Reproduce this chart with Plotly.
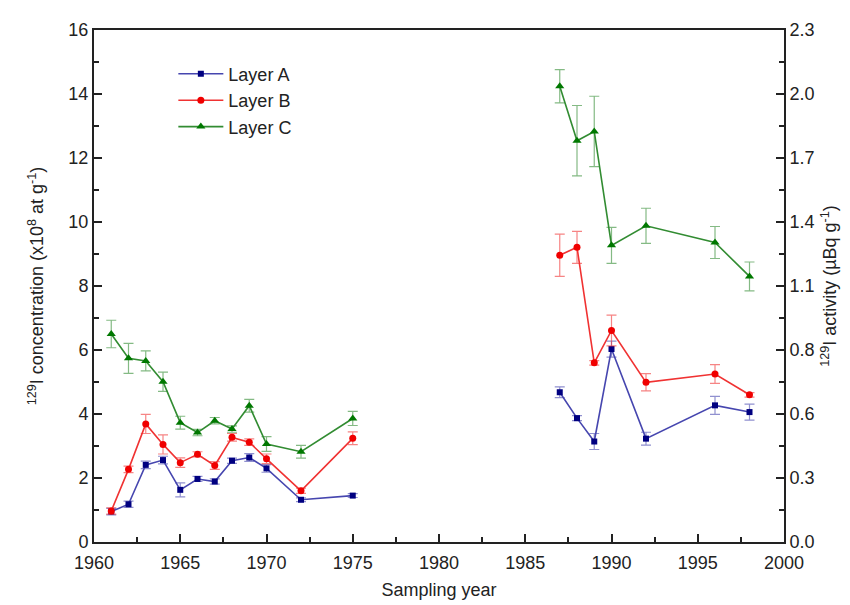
import plotly.graph_objects as go

# sampling years
years_left = [1961, 1962, 1963, 1964, 1965, 1966, 1967, 1968, 1969, 1970, 1972, 1975]
years_right = [1987, 1988, 1989, 1990, 1992, 1996, 1998]
years = years_left + [None] + years_right

# 129I concentration (x10^8 at/g)
layer_a = [0.95, 1.18, 2.41, 2.56, 1.63, 1.97, 1.89, 2.54, 2.64, 2.30, 1.32, 1.45,
           None, 4.68, 3.87, 3.14, 6.03, 3.23, 4.27, 4.06]
layer_a_err = [0.10, 0.10, 0.12, 0.12, 0.22, 0.08, 0.08, 0.08, 0.12, 0.12, 0.06, 0.06,
               None, 0.17, 0.08, 0.25, 0.25, 0.20, 0.28, 0.25]

layer_b = [0.97, 2.27, 3.69, 3.05, 2.48, 2.74, 2.39, 3.27, 3.12, 2.60, 1.60, 3.24,
           None, 8.96, 9.21, 5.60, 6.61, 4.99, 5.25, 4.60]
layer_b_err = [0.10, 0.10, 0.30, 0.30, 0.15, 0.08, 0.12, 0.12, 0.10, 0.15, 0.08, 0.20,
               None, 0.66, 0.50, 0.07, 0.48, 0.27, 0.29, 0.07]

layer_c = [6.50, 5.74, 5.66, 5.01, 3.73, 3.42, 3.79, 3.53, 4.26, 3.06, 2.82, 3.86,
           None, 14.24, 12.54, 12.83, 9.27, 9.88, 9.36, 8.30]
layer_c_err = [0.43, 0.47, 0.31, 0.30, 0.20, 0.10, 0.10, 0.10, 0.20, 0.23, 0.20, 0.22,
               None, 0.52, 1.10, 1.10, 0.56, 0.55, 0.50, 0.45]

# right axis labels (129I activity, uBq/g)
left_ticks = [0, 2, 4, 6, 8, 10, 12, 14, 16]
right_labels = ["0.0", "0.3", "0.6", "0.8", "1.1", "1.4", "1.7", "2.0", "2.3"]

FONT = "Liberation Sans, Arial, sans-serif"

series = [
    ("Layer A", layer_a, layer_a_err, "rgb(70,70,175)", "rgb(0,0,128)", "square", 6),
    ("Layer B", layer_b, layer_b_err, "rgb(240,50,50)", "rgb(240,0,0)", "circle", 7),
    ("Layer C", layer_c, layer_c_err, "rgb(50,140,50)", "rgb(0,120,0)", "triangle-up", 8),
]

fig = go.Figure()

for name, vals, errs, lcol, mcol, sym, size in series:
    fig.add_trace(go.Scatter(
        x=years, y=vals, name=name,
        mode="lines+markers",
        connectgaps=False,
        line=dict(color=lcol, width=1.6),
        marker=dict(color=mcol, symbol=sym, size=size),
        error_y=dict(type="data", array=errs, visible=True,
                     color=lcol.replace("rgb", "rgba").replace(")", ",0.6)"),
                     thickness=1.2, width=5),
    ))

# dummy trace so the right axis gets drawn
fig.add_trace(go.Scatter(x=[None], y=[None], yaxis="y2", showlegend=False))

axis_common = dict(
    showline=True, linecolor="#222", linewidth=2,
    ticks="inside", ticklen=8, tickwidth=1.5, tickcolor="#222",
    showgrid=False, zeroline=False,
    tickfont=dict(family=FONT, size=18, color="#222"),
)

fig.update_layout(
    width=850, height=605,
    plot_bgcolor="white", paper_bgcolor="white",
    margin=dict(l=86, r=74, t=22, b=71),
    font=dict(family=FONT, color="#222"),
    xaxis=dict(
        range=[1960, 2000], tickmode="linear", tick0=1960, dtick=5,
        mirror=True, ticklabelstandoff=3,
        minor=dict(ticks="inside", ticklen=5, tickwidth=1.5, dtick=2.5, tick0=1960, tickcolor="#222"),
        title=dict(text="Sampling year", font=dict(family=FONT, size=18), standoff=12),
        **axis_common,
    ),
    yaxis=dict(
        range=[0, 16], tickvals=left_ticks,
        minor=dict(ticks="inside", ticklen=5, tickwidth=1.5, dtick=1, tickcolor="#222"),
        title=dict(text="<sup>129</sup>I concentration (x10<sup>8</sup> at g<sup>-1</sup>)",
                   font=dict(family=FONT, size=18), standoff=20),
        **axis_common,
    ),
    yaxis2=dict(
        overlaying="y", side="right", range=[0, 16],
        tickvals=left_ticks, ticktext=right_labels,
        minor=dict(ticks="inside", ticklen=5, tickwidth=1.5, dtick=1, tickcolor="#222"),
        title=dict(text="<sup>129</sup>I activity (µBq g<sup>-1</sup>)",
                   font=dict(family=FONT, size=18), standoff=10),
        **axis_common,
    ),
    legend=dict(
        x=0.115, y=0.95, xanchor="left", yanchor="top",
        bgcolor="rgba(0,0,0,0)", itemwidth=45,
        font=dict(family=FONT, size=18), tracegroupgap=0,
    ),
    showlegend=True,
)

fig.write_html("out.html")
